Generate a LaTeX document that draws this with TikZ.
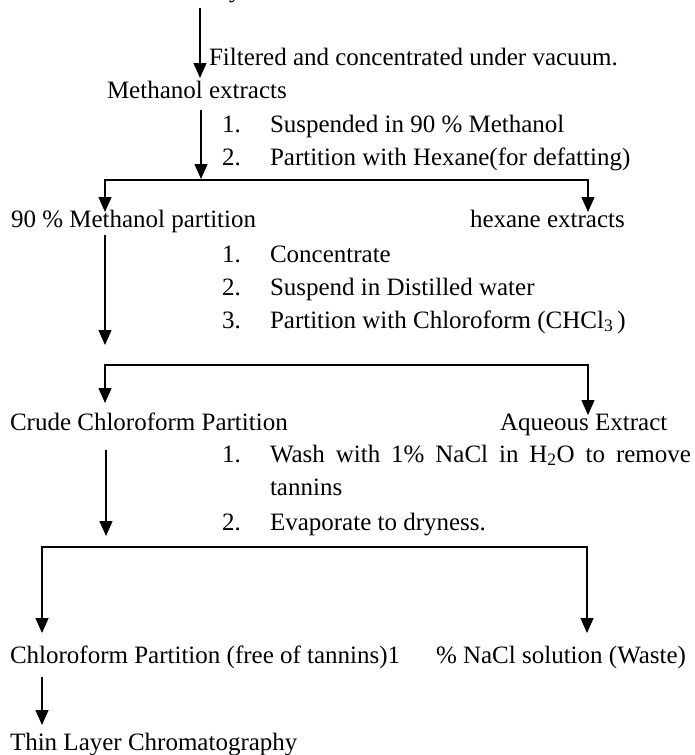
\documentclass[tikz,border=0pt]{standalone}
\usepackage{fontspec}
\setmainfont{Liberation Serif}
\usetikzlibrary{arrows.meta}
\begin{document}
\begin{tikzpicture}[x=1pt,y=-1pt,
  txt/.style={anchor=base west,inner sep=0pt,outer sep=0pt,font=\fontsize{25}{30}\selectfont},
  ln/.style={line width=1.4pt},
  tip/.style={Triangle[width=13pt,length=15pt]},
  arr/.style={ln,-{Triangle[width=13pt,length=15pt]}},
  branch/.style={ln,{Triangle[width=13pt,length=15pt]}-{Triangle[width=13pt,length=15pt]}}]
\useasboundingbox (0,0) rectangle (694,755);

% partial top text
\node[txt] (top) at (229,-2.5) {y};

% step 1
\coordinate (a1s) at (200,8);
\coordinate (a1e) at (200,78);
\draw[arr] (a1s) -- (a1e);
\node[txt] (filt) at (209,65) {Filtered and concentrated under vacuum.};
\node[txt] (meth) at (107,98) {Methanol extracts};

% step 2
\coordinate (a2s) at (201,110);
\coordinate (a2e) at (201,179);
\draw[arr] (a2s) -- (a2e);
\node[txt] (n1a) at (222,132) {1.};
\node[txt] (s1a) at (270,132) {Suspended in 90 \% Methanol};
\node[txt] (n1b) at (222,165) {2.};
\node[txt] (s1b) at (270,165) {Partition with Hexane(for defatting)};

% branch 1
\coordinate (b1l) at (105,180);
\coordinate (b1r) at (588,180);
\coordinate (t1l) at (105,212);
\coordinate (t1r) at (588,212);
\draw[branch] (t1l) -- (b1l) -- (b1r) -- (t1r);
\node[txt] (mp) at (11,227) {90 \% Methanol partition};
\node[txt] (hex) at (470,227) {hexane extracts};

% step 3
\coordinate (a3s) at (105,235);
\coordinate (a3e) at (105,345);
\draw[arr] (a3s) -- (a3e);
\node[txt] (n2a) at (222,262) {1.};
\node[txt] (s2a) at (270,262) {Concentrate};
\node[txt] (n2b) at (222,295) {2.};
\node[txt] (s2b) at (270,295) {Suspend in Distilled water};
\node[txt] (n2c) at (222,328) {3.};
\node[txt] (s2c) at (270,328) {Partition with Chloroform (CHCl\textsubscript{3}\,)};

% branch 2
\coordinate (b2l) at (105,365);
\coordinate (b2r) at (588,365);
\coordinate (t2l) at (105,403);
\coordinate (t2r) at (588,415);
\draw[branch] (t2l) -- (b2l) -- (b2r) -- (t2r);
\node[txt] (crude) at (10,430) {Crude Chloroform Partition};
\node[txt] (aq) at (500,430) {Aqueous Extract};

% step 4
\coordinate (a4s) at (106,450);
\coordinate (a4e) at (106,536);
\draw[arr] (a4s) -- (a4e);
\node[txt] (n3a) at (222,462) {1.};
\node[txt] (s3a) at (270,462) {\makebox[421pt][s]{Wash with 1\% NaCl in H\textsubscript{2}O to remove}};
\node[txt] (s3a2) at (270,495) {tannins};
\node[txt] (n3b) at (222,530) {2.};
\node[txt] (s3b) at (270,530) {Evaporate to dryness.};

% branch 3
\coordinate (b3l) at (42,547);
\coordinate (b3r) at (587,547);
\coordinate (t3l) at (42,633);
\coordinate (t3r) at (587,633);
\draw[branch] (t3l) -- (b3l) -- (b3r) -- (t3r);
\node[txt] (cf) at (10,663) {Chloroform Partition (free of tannins)1};
\node[txt] (nacl) at (436,663) {\% NaCl solution (Waste)};

% step 5
\coordinate (a5s) at (42,677);
\coordinate (a5e) at (42,725);
\draw[arr] (a5s) -- (a5e);
\node[txt] (tlc) at (10,750) {Thin Layer Chromatography};
\end{tikzpicture}
\end{document}
